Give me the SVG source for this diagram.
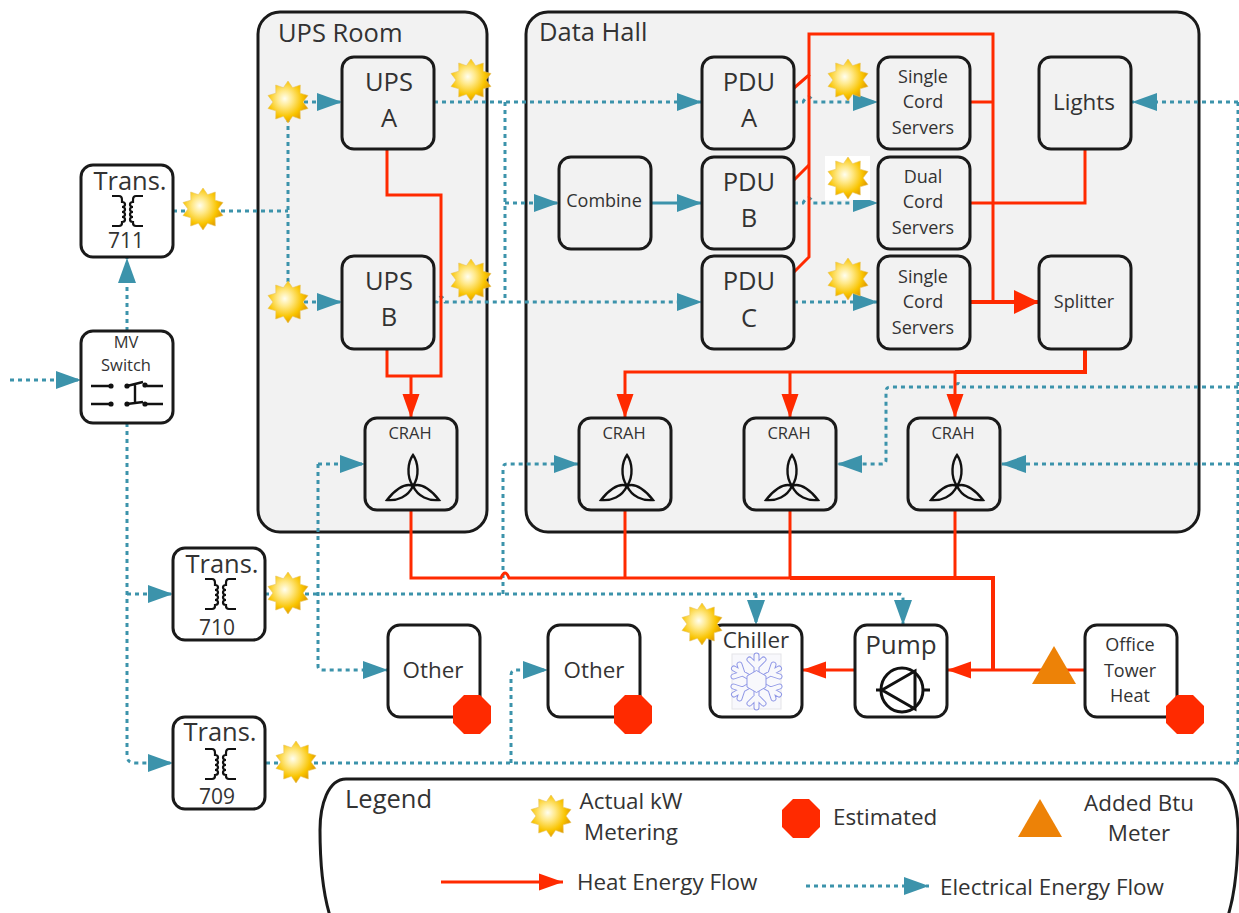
<svg xmlns="http://www.w3.org/2000/svg" xmlns:xlink="http://www.w3.org/1999/xlink" width="1239" height="913" viewBox="0 0 1239 913">
<style>
text{font-family:"Open Sans","Noto Sans","DejaVu Sans",sans-serif;fill:#333;text-anchor:middle}
.l{text-anchor:start}
.room{fill:#f2f2f2;stroke:#1a1a1a;stroke-width:3}
.box{fill:#fff;stroke:#1a1a1a;stroke-width:3}
.in{fill:#f2f2f2;stroke:#1a1a1a;stroke-width:3}
.h{fill:none;stroke:#ff2a00;stroke-width:3;stroke-linejoin:miter}
.hb{fill:none;stroke:#ff2a00;stroke-width:4;stroke-linejoin:miter}
.e{fill:none;stroke:#3c93ab;stroke-width:3;stroke-dasharray:4 4}
.sym{fill:none;stroke:#111;stroke-width:2.4}
.t25{font-size:25.5px}.t24{font-size:24px}.t22{font-size:22.4px}.t18{font-size:18px}.t21{font-size:21px}.t16{font-size:16.5px}
</style>
<defs>
<marker id="ah" markerUnits="userSpaceOnUse" markerWidth="24" markerHeight="18" refX="24" refY="9" orient="auto"><path d="M0 0.5L24 9L0 17.5Z" fill="#ff2a00"/></marker>
<marker id="ahb" markerUnits="userSpaceOnUse" markerWidth="25" markerHeight="26" refX="25" refY="13" orient="auto"><path d="M0 1L25 13L0 25Z" fill="#ff2a00"/></marker>
<marker id="ae" markerUnits="userSpaceOnUse" markerWidth="26" markerHeight="18" refX="25" refY="9" orient="auto"><path d="M0 0L25 9L0 18Z" fill="#3c93ab"/></marker>
<radialGradient id="sun" cx="42%" cy="42%" r="62%"><stop offset="0" stop-color="#fffef0"/><stop offset=".3" stop-color="#ffe98a"/><stop offset=".7" stop-color="#f9c400"/><stop offset="1" stop-color="#dd9400"/></radialGradient>
<polygon id="star" points="0,-21 4.6,-14.3 12.3,-17 12.1,-8.8 20,-6.5 15,0 20,6.5 12.1,8.8 12.3,17 4.6,14.3 0,21 -4.6,14.3 -12.3,17 -12.1,8.8 -20,6.5 -15,0 -20,-6.5 -12.1,-8.8 -12.3,-17 -4.6,-14.3" fill="url(#sun)" stroke="#e8c35a" stroke-width=".6"/>
<polygon id="oct" points="-8,-19 8,-19 19,-8 19,9 8,20 -8,20 -19,9 -19,-8" fill="#ff2a00"/>
<polygon id="tri" points="0,-19 22,19 -22,19" fill="#ed8207"/>
<g id="fan" fill="none" stroke="#111" stroke-width="2.4">
<path d="M0 0C-7-10-5-24 0-31C5-24 7-10 0 0Z"/>
<path d="M0 0C-9-4-20 6-26 14C-16 15-5 11 0 0Z"/>
<path d="M0 0C9-4 20 6 26 14C16 15 5 11 0 0Z"/>
</g>
<g id="xf" fill="none" stroke="#111" stroke-width="2.2">
<path d="M-15-15H-8C-5-15-5-13-5-11V-9C-1-9-1-4-5-4C-1-4-1 1-5 1C-1 1-1 6-5 6C-1 6-1 11-5 11V12C-5 14-6 15-8 15H-15"/>
<path d="M16-15H9C6-15 6-13 6-11V-9C2-9 2-4 6-4C2-4 2 1 6 1C2 1 2 6 6 6C2 6 2 11 6 11V12C6 14 7 15 9 15H16"/>
</g>
<g id="flake"><path d="M0-26V26M-22.5-13L22.5 13M-22.5 13L22.5-13M-7-22L0-15L7-22M-7 22L0 15L7 22M-23-5L-14-8L-17-17M23-5L14-8L17-17M-23 5L-14 8L-17 17M23 5L14 8L17 17" fill="none"/></g>
</defs>

<g id="rooms">
<rect id="ups-room" class="room" x="258" y="12" width="229" height="520" rx="22"/>
<rect id="data-hall" class="room" x="526" y="12" width="673" height="520" rx="22"/>
<text class="l t25" x="278" y="42">UPS Room</text>
<text class="l t25" x="539" y="41">Data Hall</text>
</g>

<g id="connectors">
<path class="e" d="M10 380H81" marker-end="url(#ae)"/>
<path class="e" d="M127 331V258" marker-end="url(#ae)"/>
<path class="e" d="M127 423V755Q127 763 135 763H173" marker-end="url(#ae)"/>
<path class="e" d="M127 594H173" marker-end="url(#ae)"/>
<path class="e" d="M173 211H288"/>
<path class="e" d="M288 102V302"/>
<path class="e" d="M288 102H342" marker-end="url(#ae)"/>
<path class="e" d="M288 302H342" marker-end="url(#ae)"/>
<path class="e" d="M434 102H702" marker-end="url(#ae)"/>
<path class="e" d="M434 302H437Q441 292 445 302H702" marker-end="url(#ae)"/>
<path class="e" d="M505 102V302"/>
<path class="e" d="M505 203H559" marker-end="url(#ae)"/>
<path d="M651 203H702" fill="none" stroke="#3c93ab" stroke-width="3" marker-end="url(#ae)"/>
<path class="e" d="M794 102H803Q809 92 813 102H878" marker-end="url(#ae)"/>
<path class="e" d="M794 203H803Q809 193 813 203H878" marker-end="url(#ae)"/>
<path class="e" d="M794 302H878" marker-end="url(#ae)"/>
<path class="e" d="M1238 102H1132" marker-end="url(#ae)"/>
<path class="e" d="M1238 102V763"/>
<path class="e" d="M1238 387H962Q958 380 954 387H890Q886 387 886 391V460Q886 464 882 464H837" marker-end="url(#ae)"/>
<path class="e" d="M1238 464H1001" marker-end="url(#ae)"/>
<path class="e" d="M1238 763H265"/>
<path class="e" d="M511 763V675Q511 670 516 670H548" marker-end="url(#ae)"/>
<path class="e" d="M265 594H899Q903 594 903 598V625" marker-end="url(#ae)"/>
<path class="e" d="M756 594V625" marker-end="url(#ae)"/>
<path class="e" d="M503 594V468Q503 464 507 464H579" marker-end="url(#ae)"/>
<path class="e" d="M318 464H365" marker-end="url(#ae)"/>
<path class="e" d="M318 464V666Q318 670 322 670H388" marker-end="url(#ae)"/>

<path class="h" d="M387 149V195H441V376H387V349"/>
<path class="h" d="M411 376V418" marker-end="url(#ah)"/>
<path class="h" d="M794 88L809 75V34H993V302"/>
<path class="h" d="M794 180L809 165"/>
<path class="h" d="M794 272L809 257V75"/>
<path class="h" d="M970 102H993"/>
<path class="h" d="M970 203H1085V149"/>
<path class="hb" d="M970 302H1039" marker-end="url(#ahb)"/>
<path class="h" d="M955 372H625V418" marker-end="url(#ah)"/>
<path class="hb" d="M1085 349V372H955"/>
<path class="h" d="M790 372V418" marker-end="url(#ah)"/>
<path class="h" d="M955 372V418" marker-end="url(#ah)"/>
<path class="h" d="M411 510V578H497L501 578Q505 568 509 578H790"/>
<path class="hb" d="M790 578H993V670"/>
<path class="h" d="M625 510V578"/>
<path class="h" d="M790 510V578"/>
<path class="h" d="M955 510V578"/>
<path class="h" d="M1085 670H947" marker-end="url(#ah)"/>
<path class="h" d="M855 670H802" marker-end="url(#ah)"/>
</g>

<g id="trans-711"><rect class="box" x="81" y="165" width="92" height="92" rx="12"/><text class="t25" x="130" y="190">Trans.</text><use xlink:href="#xf" href="#xf" x="127" y="211"/><text class="t21" x="126" y="248">711</text></g>
<g id="mv-switch"><rect class="box" x="81" y="331" width="92" height="92" rx="12"/><text class="t16" x="126" y="348">MV</text><text class="t16" x="126" y="371">Switch</text>
<g class="sym"><path d="M91 386H110M91 404H110M147 386H163M147 404H163M135 384V403M127 386L143 382M127 404L143 402"/><g fill="#111" stroke="none"><circle cx="111" cy="386" r="2.6"/><circle cx="111" cy="404" r="2.6"/><circle cx="127" cy="386" r="2.6"/><circle cx="127" cy="404" r="2.6"/><circle cx="145" cy="385" r="2.6"/><circle cx="145" cy="404" r="2.6"/></g></g></g>
<g id="ups-a"><rect class="in" x="342" y="57" width="92" height="92" rx="12"/><text class="t25" x="389" y="91">UPS</text><text class="t25" x="389" y="127">A</text></g>
<g id="ups-b"><rect class="in" x="342" y="256" width="92" height="93" rx="12"/><text class="t25" x="389" y="290">UPS</text><text class="t25" x="389" y="326">B</text></g>
<g id="crah-ups"><rect class="in" x="365" y="418" width="92" height="92" rx="12"/><text class="t16" x="410" y="439">CRAH</text><use xlink:href="#fan" href="#fan" x="413" y="486"/></g>
<g id="combine"><rect class="in" x="559" y="157" width="92" height="92" rx="12"/><text class="t18" x="604" y="207">Combine</text></g>
<g id="pdu-a"><rect class="in" x="702" y="57" width="92" height="92" rx="12"/><text class="t25" x="749" y="91">PDU</text><text class="t25" x="749" y="127">A</text></g>
<g id="pdu-b"><rect class="in" x="702" y="157" width="92" height="92" rx="12"/><text class="t25" x="749" y="191">PDU</text><text class="t25" x="749" y="227">B</text></g>
<g id="pdu-c"><rect class="in" x="702" y="256" width="92" height="93" rx="12"/><text class="t25" x="749" y="290">PDU</text><text class="t25" x="749" y="327">C</text></g>
<g id="servers-a"><rect class="in" x="878" y="57" width="92" height="92" rx="12"/><text class="t18" x="923" y="83">Single</text><text class="t18" x="923" y="108">Cord</text><text class="t18" x="923" y="134">Servers</text></g>
<g id="servers-b"><rect class="in" x="878" y="157" width="92" height="92" rx="12"/><text class="t18" x="923" y="183">Dual</text><text class="t18" x="923" y="208">Cord</text><text class="t18" x="923" y="234">Servers</text></g>
<g id="servers-c"><rect class="in" x="878" y="256" width="92" height="93" rx="12"/><text class="t18" x="923" y="283">Single</text><text class="t18" x="923" y="308">Cord</text><text class="t18" x="923" y="334">Servers</text></g>
<g id="lights"><rect class="in" x="1039" y="57" width="92" height="92" rx="12"/><text class="t22" x="1084" y="110">Lights</text></g>
<g id="splitter"><rect class="in" x="1039" y="256" width="92" height="93" rx="12"/><text class="t18" x="1084" y="308">Splitter</text></g>
<g id="crah-1"><rect class="in" x="579" y="418" width="92" height="92" rx="12"/><text class="t16" x="624" y="439">CRAH</text><use xlink:href="#fan" href="#fan" x="627" y="486"/></g>
<g id="crah-2"><rect class="in" x="744" y="418" width="92" height="92" rx="12"/><text class="t16" x="789" y="439">CRAH</text><use xlink:href="#fan" href="#fan" x="792" y="486"/></g>
<g id="crah-3"><rect class="in" x="908" y="418" width="92" height="92" rx="12"/><text class="t16" x="953" y="439">CRAH</text><use xlink:href="#fan" href="#fan" x="957" y="486"/></g>
<g id="trans-710"><rect class="box" x="173" y="548" width="92" height="92" rx="12"/><text class="t25" x="222" y="573">Trans.</text><use xlink:href="#xf" href="#xf" x="220" y="594"/><text class="t21" x="217" y="635">710</text></g>
<g id="trans-709"><rect class="box" x="173" y="717" width="92" height="92" rx="12"/><text class="t25" x="220" y="741">Trans.</text><use xlink:href="#xf" href="#xf" x="220" y="764"/><text class="t21" x="217" y="804">709</text></g>
<g id="other-1"><rect class="box" x="388" y="625" width="92" height="92" rx="12"/><text class="t22" x="433" y="678">Other</text><use xlink:href="#oct" href="#oct" x="472" y="714"/></g>
<g id="other-2"><rect class="box" x="548" y="625" width="92" height="92" rx="12"/><text class="t22" x="594" y="678">Other</text><use xlink:href="#oct" href="#oct" x="633" y="714"/></g>
<g id="chiller"><rect class="box" x="710" y="625" width="92" height="92" rx="12"/><text class="t22" x="756" y="648">Chiller</text>
<rect x="732" y="654" width="49" height="55" fill="#f8f8fc" stroke="#e4e4e8"/>
<g transform="translate(756.5 681.5)">
<use xlink:href="#flake" href="#flake" stroke="#8f97e6" stroke-width="6" stroke-linejoin="round" stroke-linecap="round"/>
<use xlink:href="#flake" href="#flake" stroke="#f8f8fc" stroke-width="4" stroke-linejoin="round" stroke-linecap="round"/>
<polygon points="0,-11 9.5,-5.5 9.5,5.5 0,11 -9.5,5.5 -9.5,-5.5" fill="#f8f8fc" stroke="#8f97e6" stroke-width="1"/>
</g>
</g>
<g id="pump"><rect class="box" x="855" y="625" width="92" height="92" rx="12"/><text class="t24" x="901" y="654" style="font-size:26px">Pump</text><g class="sym" style="stroke-width:3"><ellipse cx="902" cy="690" rx="21" ry="22"/><path d="M876 690H883M924 690H930M882 690L915 671V709Z"/></g></g>
<g id="office"><rect class="box" x="1085" y="625" width="92" height="92" rx="12"/><text class="t18" x="1130" y="651">Office</text><text class="t18" x="1130" y="677">Tower</text><text class="t18" x="1130" y="702">Heat</text><use xlink:href="#oct" href="#oct" x="1185" y="714"/></g>

<g id="btu-meter"><use xlink:href="#tri" href="#tri" x="1054" y="665"/></g>
<g id="meters">
<rect x="825" y="156" width="45" height="44" fill="#fff"/>
<use xlink:href="#star" href="#star" x="288" y="102"/>
<use xlink:href="#star" href="#star" x="471" y="80"/>
<use xlink:href="#star" href="#star" x="203" y="209"/>
<use xlink:href="#star" href="#star" x="288" y="302"/>
<use xlink:href="#star" href="#star" x="471" y="280"/>
<use xlink:href="#star" href="#star" x="848" y="80"/>
<use xlink:href="#star" href="#star" x="848" y="178"/>
<use xlink:href="#star" href="#star" x="848" y="279"/>
<use xlink:href="#star" href="#star" x="702" y="624"/>
<use xlink:href="#star" href="#star" x="288" y="593"/>
<use xlink:href="#star" href="#star" x="296" y="762"/>
</g>

<g id="legend">
<path d="M346 779H1212C1230 779 1238 805 1238 830C1238 860 1236 890 1228 916H330C322 890 320 860 320 830C320 805 328 779 346 779Z" fill="#fff" stroke="#1a1a1a" stroke-width="3"/>
<text class="l t25" x="345" y="808">Legend</text>
<use xlink:href="#star" href="#star" x="551" y="816"/>
<text class="t22" x="631" y="809">Actual kW</text>
<text class="t22" x="631" y="840">Metering</text>
<use xlink:href="#oct" href="#oct" x="801" y="818"/>
<text class="l t22" x="833" y="825">Estimated</text>
<use xlink:href="#tri" href="#tri" x="1040" y="818"/>
<text class="t22" x="1139" y="811">Added Btu</text>
<text class="t22" x="1139" y="841">Meter</text>
<path class="h" d="M441 882H563" marker-end="url(#ah)"/>
<text class="l t22" x="577" y="890">Heat Energy Flow</text>
<path class="e" d="M806 886H929" marker-end="url(#ae)"/>
<text class="l t22" x="940" y="895">Electrical Energy Flow</text>
</g>
</svg>
